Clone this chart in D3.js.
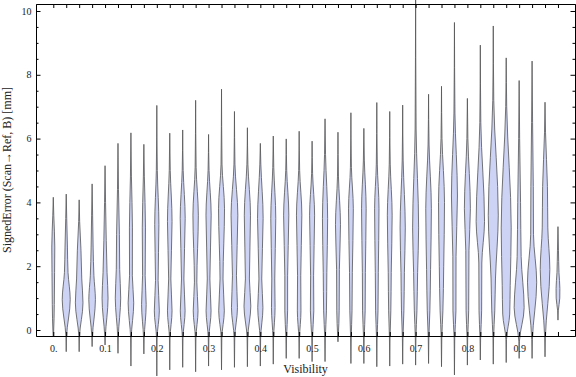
<!DOCTYPE html>
<html>
<head>
<meta charset="utf-8">
<script src="https://cdn.jsdelivr.net/npm/d3@7"></script>
<style>
  body { margin: 0; background: #fff; }
  text { font-family: "Liberation Serif", "Times New Roman", serif; }
</style>
</head>
<body>
<svg id="chart" width="576" height="377"></svg>
<script>
// Visibility bins (one violin per bin)
var visibility = [0, 0.025, 0.05, 0.075, 0.1, 0.125, 0.15, 0.175, 0.2, 0.225,
  0.25, 0.275, 0.3, 0.325, 0.35, 0.375, 0.4, 0.425, 0.45, 0.475,
  0.5, 0.525, 0.55, 0.575, 0.6, 0.625, 0.65, 0.675, 0.7, 0.725,
  0.75, 0.775, 0.8, 0.825, 0.85, 0.875, 0.9, 0.925, 0.95, 0.975];

// tick labels
var xLabelAt = [0, 0.1, 0.2, 0.3, 0.4, 0.5, 0.6, 0.7, 0.8, 0.9];
var xLabels = ["0.", "0.1", "0.2", "0.3", "0.4", "0.5", "0.6", "0.7", "0.8", "0.9"];
var yMajor = [0, 2, 4, 6, 8, 10];
var yMinor = [0.5, 1, 1.5, 2.5, 3, 3.5, 4.5, 5, 5.5, 6.5, 7, 7.5, 8.5, 9, 9.5];

// range of each distribution (mm)
var minima = [-0.2, -0.68, -0.68, -0.52, -0.47, -0.73, -1.13, -0.75, -1.44, -1.25,
  -1.17, -1.31, -1.13, -1.25, -1.17, -1.15, -1.13, -1.07, -0.89, -0.89,
  -0.99, -0.99, -0.37, -1.05, -1.05, -1.15, -1.13, -1.07, -1.1, -1.05,
  -1.15, -1.41, -1.1, -0.94, -1.07, -1.02, -0.89, -0.89, -0.84, 0.31];
var maxima = [4.16, 4.26, 4.08, 4.58, 5.15, 5.85, 6.18, 5.82, 7.04, 6.17,
  6.27, 7.2, 6.13, 7.55, 6.85, 6.34, 5.85, 6.08, 5.99, 6.23,
  5.92, 6.62, 6.2, 6.81, 6.32, 7.13, 6.85, 7.05, 10.8, 7.39,
  7.64, 9.64, 7.26, 8.93, 9.53, 8.53, 7.82, 8.43, 7.14, 3.24];

// density profile: where the body starts, lower bulge, waist, upper bulge, where it fades
var baseAt = [-0.1, -0.2, -0.2, -0.2, -0.2, -0.2, -0.25, -0.25, -0.25, -0.25,
  -0.25, -0.25, -0.25, -0.25, -0.25, -0.25, -0.25, -0.25, -0.25, -0.25,
  -0.25, -0.25, -0.2, -0.25, -0.25, -0.25, -0.25, -0.25, -0.25, -0.25,
  -0.25, -0.25, -0.25, -0.25, -0.25, -0.3, -0.35, -0.3, -0.25, 0.6];
var lowAt = [0.8, 0.95, 0.85, 0.95, 1.0, 1.0, 0.85, 0.8, 0.6, 0.6,
  0.6, 0.6, 0.6, 0.6, 0.7, 0.75, 0.7, 0.7, 0.6, 0.6,
  0.6, 0.6, 0.6, 0.6, 0.6, 0.6, 0.6, 0.6, 0.6, 0.6,
  0.6, 0.6, 0.6, 0.6, 0.6, 0.5, 0.7, 1.5, 1.9, 1.0];
var lowDens = [0.2, 0.8, 0.76, 0.66, 0.6, 0.54, 0.56, 0.46, 0.5, 0.46,
  0.48, 0.48, 0.5, 0.56, 0.6, 0.68, 0.52, 0.36, 0.28, 0.36,
  0.34, 0.28, 0.24, 0.22, 0.26, 0.24, 0.22, 0.24, 0.26, 0.26,
  0.28, 0.3, 0.26, 0.26, 0.3, 0.7, 1.0, 0.92, 0.96, 0.36];
var waistAt = [1.8, 1.8, 1.6, 1.7, 1.8, 1.9, 1.7, 1.7, 1.55, 1.6,
  1.6, 1.5, 1.6, 1.6, 1.7, 1.6, 1.6, 1.6, 1.7, 1.7,
  1.7, 1.8, 1.9, 1.8, 1.8, 1.8, 1.8, 1.8, 1.8, 1.9,
  2.0, 2.3, 2.5, 2.1, 1.6, 1.4, 2.3, 3.0, 3.2, 1.3];
var waistDens = [0.26, 0.36, 0.52, 0.36, 0.4, 0.34, 0.28, 0.26, 0.26, 0.22,
  0.24, 0.24, 0.26, 0.3, 0.4, 0.4, 0.28, 0.3, 0.28, 0.32,
  0.3, 0.36, 0.28, 0.28, 0.3, 0.3, 0.3, 0.34, 0.4, 0.4,
  0.44, 0.32, 0.32, 0.3, 0.44, 0.8, 0.4, 0.28, 0.56, 0.38];
var peakAt = [2.6, 2.6, 2.5, 2.6, 2.8, 3.0, 3.2, 3.2, 3.3, 3.4,
  3.5, 3.6, 3.6, 3.8, 3.6, 3.6, 3.5, 3.5, 3.6, 3.6,
  3.6, 3.5, 3.3, 3.8, 3.8, 3.8, 3.6, 3.2, 3.2, 3.8,
  4.0, 4.2, 3.8, 3.4, 3.6, 3.2, 4.0, 4.5, 4.5, 1.8];
var peakDens = [0.3, 0.24, 0.36, 0.2, 0.24, 0.28, 0.3, 0.32, 0.42, 0.46,
  0.5, 0.54, 0.52, 0.6, 0.68, 0.62, 0.56, 0.5, 0.52, 0.54,
  0.5, 0.52, 0.5, 0.48, 0.46, 0.44, 0.48, 0.52, 0.6, 0.56,
  0.6, 0.6, 0.6, 0.84, 1.0, 1.0, 0.28, 0.24, 0.48, 0.2];
var fadeAt = [3.6, 3.5, 3.4, 3.6, 4.0, 4.4, 4.8, 4.8, 5.0, 5.0,
  5.0, 5.1, 5.0, 5.2, 5.2, 5.2, 5.2, 5.1, 5.0, 5.0,
  4.9, 5.5, 4.8, 5.1, 5.3, 5.2, 5.2, 5.3, 6.3, 5.8,
  6.0, 6.8, 6.0, 6.5, 7.2, 7.0, 6.0, 6.5, 6.2, 2.5];

var svg = d3.select("#chart");

var x = d3.scaleLinear().domain([-0.0334, 1.0079]).range([36, 575]);
var y = d3.scaleLinear().domain([-0.188, 10.219]).range([336, 4]);
var w = d3.scaleLinear().domain([0, 1]).range([0, 5]);

var violins = visibility.map(function(v, i) {
  return {
    v: v,
    knots: [
      [minima[i], 0],
      [baseAt[i], 0.06],
      [lowAt[i], lowDens[i]],
      [waistAt[i], waistDens[i]],
      [peakAt[i], peakDens[i]],
      [fadeAt[i], 0.1],
      [maxima[i], 0]
    ]
  };
});

svg.append("g")
  .selectAll("path")
  .data(violins)
  .enter().append("path")
    .attr("d", function(d) {
      var cx = x(d.v);
      return d3.area()
        .curve(d3.curveMonotoneY)
        .y(function(k) { return y(k[0]); })
        .x0(function(k) { return cx - w(k[1]); })
        .x1(function(k) { return cx + w(k[1]); })(d.knots);
    })
    .style("fill", "#cdd3f5")
    .style("stroke", "#555")
    .style("stroke-width", 0.9)
    .style("stroke-opacity", 0.9);

function styleAxis(g) {
  g.attr("font-family", null).attr("font-size", null);
  g.selectAll("line, path").attr("stroke", "#000");
  g.selectAll("text")
    .style("font-family", "'Liberation Serif', serif")
    .style("font-size", "10px")
    .style("fill", "#222");
}

// bottom
svg.append("g")
  .attr("transform", "translate(0,336)")
  .call(d3.axisBottom(x).tickValues(visibility).tickSize(-4).tickSizeOuter(0).tickPadding(9)
    .tickFormat(function(d) {
      var j = xLabelAt.findIndex(function(t) { return Math.abs(t - d) < 1e-9; });
      return j < 0 ? "" : xLabels[j];
    }))
  .call(styleAxis);

// top
svg.append("g")
  .attr("transform", "translate(0,4)")
  .call(d3.axisTop(x).tickValues(visibility).tickSize(-4).tickSizeOuter(0).tickFormat(""))
  .call(styleAxis);

// left
svg.append("g")
  .attr("transform", "translate(36,0)")
  .call(d3.axisLeft(y).tickValues(yMajor).tickSize(-4.5).tickSizeOuter(0).tickPadding(4.5)
    .tickFormat(function(d) { return String(d); }))
  .call(styleAxis);
svg.append("g")
  .attr("transform", "translate(36,0)")
  .call(d3.axisLeft(y).tickValues(yMinor).tickSize(-2.5).tickSizeOuter(0).tickFormat(""))
  .call(styleAxis);

// right
svg.append("g")
  .attr("transform", "translate(575,0)")
  .call(d3.axisRight(y).tickValues(yMajor).tickSize(-4.5).tickSizeOuter(0).tickFormat(""))
  .call(styleAxis);
svg.append("g")
  .attr("transform", "translate(575,0)")
  .call(d3.axisRight(y).tickValues(yMinor).tickSize(-2.5).tickSizeOuter(0).tickFormat(""))
  .call(styleAxis);

// axis titles
svg.append("text")
  .attr("x", 305.5)
  .attr("y", 373)
  .attr("text-anchor", "middle")
  .style("font-size", "12px")
  .style("fill", "#222")
  .text("Visibility");

svg.append("text")
  .attr("transform", "translate(11,170) rotate(-90)")
  .attr("text-anchor", "middle")
  .style("font-size", "12px")
  .style("fill", "#222")
  .text("SignedError (Scan\u2192Ref, B) [mm]");
</script>
</body>
</html>
